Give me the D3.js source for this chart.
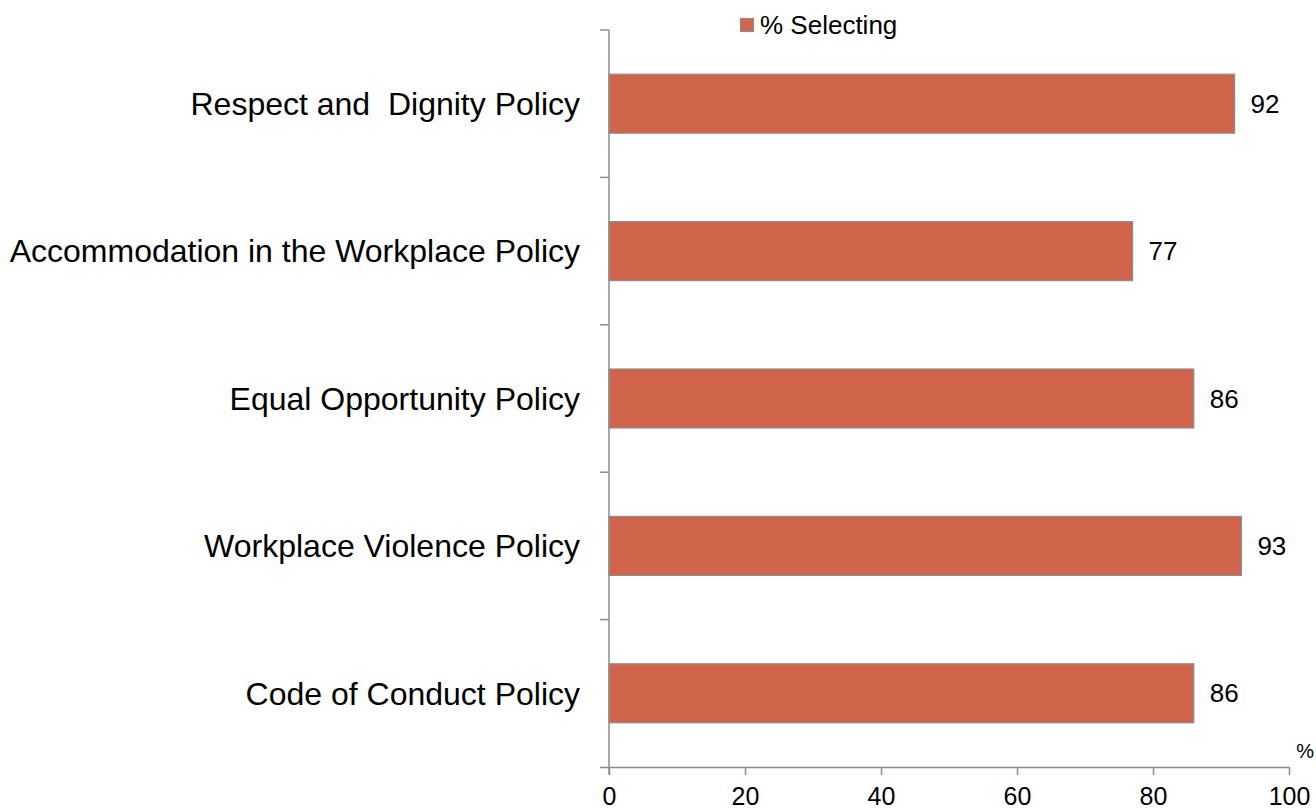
<!DOCTYPE html>
<html>
<head>
<meta charset="utf-8">
<script src="https://cdn.jsdelivr.net/npm/d3@7"></script>
<style>
  html, body { margin: 0; padding: 0; background: #fff; }
  svg { display: block; font-family: "Liberation Sans", Arial, sans-serif; }
</style>
</head>
<body>
<svg id="chart" width="1316" height="811"></svg>
<script>
const categories = [
  "Respect and  Dignity Policy",
  "Accommodation in the Workplace Policy",
  "Equal Opportunity Policy",
  "Workplace Violence Policy",
  "Code of Conduct Policy"
];
const values = [92, 77, 86, 93, 86];
const seriesName = "% Selecting";
const xTicks = [0, 20, 40, 60, 80, 100];
const xUnit = "%";

const svg = d3.select("#chart");
const plotLeft = 609, plotRight = 1289, plotTop = 30, plotBottom = 767;
const barColor = "#D0644A", barStroke = "#8C8C8C", axisColor = "#8C8C8C";

const x = d3.scaleLinear().domain([0, 100]).range([plotLeft, plotRight]);
const y = d3.scaleBand().domain(categories).range([plotTop, plotBottom]).paddingInner(0.6).paddingOuter(0.3);
const yb = d3.scaleBand().domain(categories).range([plotTop, plotBottom]).padding(0);

// bars
svg.append("g").selectAll("rect").data(categories).join("rect")
  .attr("x", x(0))
  .attr("y", d => y(d))
  .attr("width", (d, i) => x(values[i]) - x(0))
  .attr("height", y.bandwidth())
  .attr("fill", barColor)
  .attr("stroke", barStroke)
  .attr("stroke-width", 1.2);

// value labels
svg.append("g").selectAll("text").data(categories).join("text")
  .attr("x", (d, i) => x(values[i]) + 16)
  .attr("y", d => y(d) + y.bandwidth() / 2)
  .attr("dy", "0.35em")
  .attr("font-size", 26)
  .attr("fill", "#000")
  .text((d, i) => values[i]);

// x axis
const xAxis = svg.append("g").attr("transform", `translate(0,${plotBottom})`)
  .call(d3.axisBottom(x).tickValues(xTicks).tickSize(8).tickPadding(12).tickSizeOuter(0));
xAxis.select(".domain").attr("stroke", axisColor).attr("stroke-width", 1.5).attr("d", `M${plotLeft - 9},0.5H${plotRight}`);
xAxis.selectAll(".tick line").attr("stroke", axisColor).attr("stroke-width", 1.5);
xAxis.selectAll(".tick text").attr("font-size", 25).attr("fill", "#000").attr("font-family", "Liberation Sans, Arial, sans-serif");

// y axis: ticks at band boundaries
const yAxisG = svg.append("g");
yAxisG.append("line").attr("x1", plotLeft).attr("x2", plotLeft).attr("y1", plotTop).attr("y2", plotBottom + 8)
  .attr("stroke", axisColor).attr("stroke-width", 1.5);
const bounds = categories.map(c => yb(c));
yAxisG.selectAll("line.tk").data(bounds).join("line").attr("class", "tk")
  .attr("x1", plotLeft - 9).attr("x2", plotLeft).attr("y1", d => d).attr("y2", d => d)
  .attr("stroke", axisColor).attr("stroke-width", 1.5);

// category labels
svg.append("g").selectAll("text").data(categories).join("text")
  .attr("x", plotLeft - 29)
  .attr("y", d => yb(d) + yb.bandwidth() / 2)
  .attr("dy", "0.35em")
  .attr("text-anchor", "end")
  .attr("font-size", 32)
  .attr("fill", "#000")
  .style("white-space", "pre")
  .text(d => d);

// unit label
svg.append("text").attr("x", 1314).attr("y", 751).attr("dy", "0.35em").attr("text-anchor", "end")
  .attr("font-size", 20).text(xUnit);

// legend
const lg = svg.append("g");
lg.append("rect").attr("x", 740.5).attr("y", 18.5).attr("width", 13).attr("height", 13)
  .attr("fill", barColor).attr("stroke", barStroke).attr("stroke-width", 1.2);
lg.append("text").attr("x", 760).attr("y", 25).attr("dy", "0.35em").attr("font-size", 26).text(seriesName);
</script>
</body>
</html>
